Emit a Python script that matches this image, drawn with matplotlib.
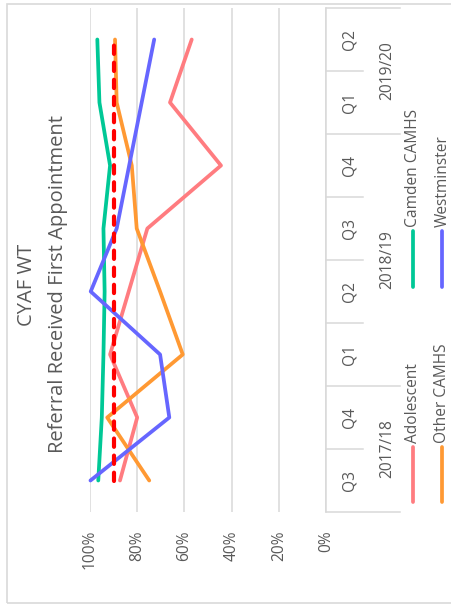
import matplotlib
matplotlib.use("Agg")
import matplotlib.pyplot as plt
from matplotlib.lines import Line2D
from matplotlib.patches import Rectangle
from matplotlib.transforms import blended_transform_factory

plt.rcParams['font.family'] = ['Open Sans', 'DejaVu Sans']

# Quarterly share of referrals seen within the waiting-time target
quarters = ["Q3", "Q4", "Q1", "Q2", "Q3", "Q4", "Q1", "Q2"]
years = ["2017/18", "2018/19", "2019/20"]
year_span = [2, 4, 2]

adolescent = [0.873, 0.800, 0.915, 0.836, 0.757, 0.445, 0.661, 0.569]
camden = [0.965, 0.950, 0.943, 0.938, 0.943, 0.915, 0.960, 0.969]
other_camhs = [0.749, 0.927, 0.607, 0.703, 0.802, 0.823, 0.887, 0.894]
westminster = [0.998, 0.664, 0.703, 0.997, 0.887, 0.834, 0.781, 0.728]
target = [0.90] * 8

value_ticks = [0.0, 0.2, 0.4, 0.6, 0.8, 1.0]
value_labels = ["0%", "20%", "40%", "60%", "80%", "100%"]

W, H = 452, 605
fig = plt.figure(figsize=(W / 100, H / 100), dpi=100)
TXT = "#595959"
GRID = "#D9D9D9"

def fx(px):
    return px / W

def fy(py):
    return 1 - py / H

# chart border
fig.patches.append(Rectangle((fx(7), fy(603)), fx(470) - fx(7), fy(4) - fy(603),
                             transform=fig.transFigure, fill=False,
                             edgecolor=GRID, lw=1.2))

# plot area (rotated layout: values run right-to-left, categories bottom-to-top)
ax = fig.add_axes([fx(90), fy(512), fx(326) - fx(90), fy(8) - fy(512)])
ax.set_xlim(1.0, 0.0)
ax.set_ylim(-0.5, len(quarters) - 0.5)
for s in ax.spines.values():
    s.set_visible(False)
ax.set_xticks(value_ticks, value_labels)
ax.set_yticks([])
ax.tick_params(axis='x', length=0, pad=13, labelsize=11.2, labelcolor=TXT)
for lab in ax.get_xticklabels():
    lab.set_rotation(90)
    lab.set_rotation_mode('anchor')
    lab.set_ha('right')
    lab.set_va('center')
ax.grid(axis='x', color=GRID, lw=1.1)
ax.set_axisbelow(True)

pos = list(range(len(quarters)))
series = [
    (adolescent, "#FF7C80", "Adolescent"),
    (camden, "#00C896", "Camden CAMHS"),
    (other_camhs, "#FF9933", "Other CAMHS"),
    (westminster, "#6666FF", "Westminster"),
]
for vals, col, name in series:
    ax.plot(vals, pos, color=col, lw=2.7, solid_capstyle='round',
            solid_joinstyle='round', clip_on=False, zorder=3)
ax.plot(target, pos, color="#FF0000", lw=3.0, dashes=(2.0, 2.1),
        dash_capstyle='round', clip_on=False, zorder=4)

# category axis with grouped year labels
bt = blended_transform_factory(ax.transAxes, ax.transData)
def axfrac(px):
    return (px - 90) / (326 - 90)

ax.plot([1, 1], [-0.5, len(quarters) - 0.5], transform=bt, color=GRID,
        lw=1.1, clip_on=False)
group_edges = [-0.5]
for n in year_span:
    group_edges.append(group_edges[-1] + n)
for k in range(len(quarters) + 1):
    yb = k - 0.5
    long = yb in group_edges
    ax.plot([1, axfrac(400 if long else 363)], [yb, yb], transform=bt,
            color=GRID, lw=1.1, clip_on=False)
for i, q in enumerate(quarters):
    ax.text(axfrac(350), i, q, transform=bt, rotation=90, ha='center',
            va='center', fontsize=11.2, color=TXT)
for j, yr in enumerate(years):
    c = (group_edges[j] + group_edges[j + 1]) / 2
    ax.text(axfrac(387), c, yr, transform=bt, rotation=90, ha='center',
            va='center', fontsize=11.2, color=TXT)

# title
fig.text(fx(27), fy(285), "CYAF WT", rotation=90, ha='center', va='center',
         fontsize=14.5, color=TXT)
fig.text(fx(58), fy(284), "Referral Received First Appointment", rotation=90,
         ha='center', va='center', fontsize=14.5, color=TXT)

# legend
legend_slots = {
    "Adolescent": (413, 502, 447),
    "Other CAMHS": (442, 502, 447),
    "Camden CAMHS": (413, 287, 231),
    "Westminster": (442, 287, 231),
}
for vals, col, name in series:
    x, y0, y1 = legend_slots[name]
    fig.lines.append(Line2D([fx(x), fx(x)], [fy(y0), fy(y1)],
                            transform=fig.transFigure, color=col, lw=2.7,
                            solid_capstyle='round'))
    fig.text(fx(x + 0.5), fy(y1 - 4), name, rotation=90, rotation_mode='anchor',
             ha='left', va='center', fontsize=11.2, color=TXT)

fig.savefig("out.png", dpi=100)
